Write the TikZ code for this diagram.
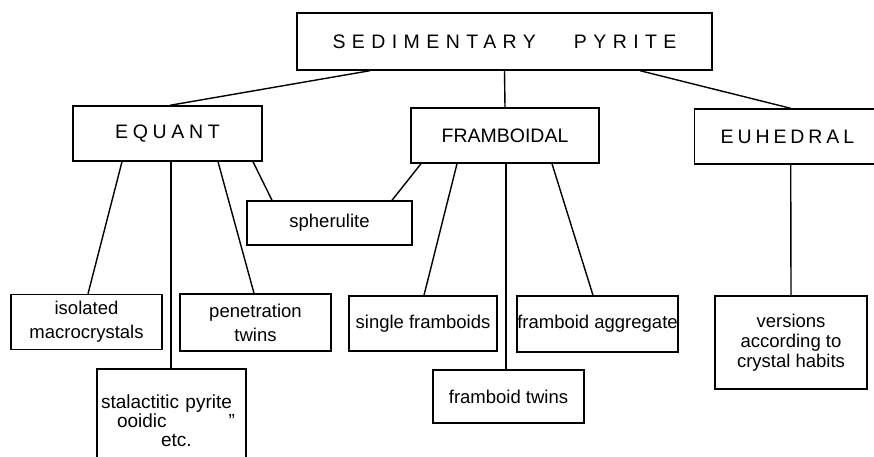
\documentclass[tikz,border=0pt]{standalone}
\usepackage{fontspec}
\setmainfont{Liberation Sans}
\newfontfamily\capsA[LetterSpace=33]{Liberation Sans}
\newfontfamily\capsB[LetterSpace=24]{Liberation Sans}
\newfontfamily\capsC[LetterSpace=0]{Liberation Sans}
\newfontfamily\capsD[LetterSpace=20]{Liberation Sans}
\begin{document}
\begin{tikzpicture}[x=1pt,y=-1pt,
  box/.style={draw, line width=1.4pt, rectangle, inner sep=0pt, align=center,
    font=\fontsize{18.5}{24}\selectfont},
  capbox/.style={box, font=\fontsize{19.5}{22}\selectfont},
  link/.style={line width=1.4pt}]
\useasboundingbox (0,0) rectangle (874,457);
% top level
\node[capbox, minimum width=415pt, minimum height=57pt] (top) at (504.5,41.5) {\capsA SEDIMENTARY\hspace{38pt}PYRITE};
% second level
\node[capbox, minimum width=189pt, minimum height=55pt] (equant) at (167.5,133.5) {\capsB EQUANT};
\node[capbox, minimum width=188pt, minimum height=55pt] (framb) at (505,135.5) {\capsC FRAMBOIDAL};
\node[capbox, anchor=west, align=left, text width=240pt, minimum height=55pt] (euh) at (694,136.5) {\hspace*{26pt}\capsD EUHEDRAL};
% spherulite
\node[box, minimum width=165pt, minimum height=44pt] (spher) at (329.5,223) {spherulite};
% third level
\node[box, minimum width=151pt, minimum height=55pt] (iso) at (86.5,322) {isolated\\macrocrystals};
\node[box, minimum width=149pt, minimum height=103pt, align=left, text width=141pt,
  font=\fontsize{19}{19}\selectfont] (stal) at (171.5,420.5)
  {stalactitic pyrite\\\hspace*{16pt}ooidic\hspace{62pt}\symbol{34}\\\hspace*{60pt}etc.};
\node[box, minimum width=151pt, minimum height=57pt] (pen) at (255.5,322.5) {penetration\\twins};
\node[box, minimum width=148pt, minimum height=55pt] (single) at (423,323.5) {single framboids};
\node[box, minimum width=161pt, minimum height=56pt] (agg) at (597.5,324) {framboid aggregate};
\node[box, minimum width=151pt, minimum height=53pt] (twins) at (508.5,396.5) {framboid twins};
\node[box, minimum width=152pt, minimum height=93pt, font=\fontsize{18.5}{20}\selectfont] (vers) at (791,342.5) {versions\\according to\\crystal habits};
% connectors
\draw[link] ([xshift=-134.5pt]top.south) -- ([xshift=2.5pt]equant.north);
\draw[link] (top.south) -- (framb.north);
\draw[link] ([xshift=135.5pt]top.south) -- ([xshift=-24pt]euh.north);
\draw[link] ([xshift=-45.5pt]equant.south) -- ([xshift=1.5pt]iso.north);
\draw[link] ([xshift=3.5pt]equant.south) -- ([xshift=-0.5pt]stal.north);
\draw[link] ([xshift=50.5pt]equant.south) -- ([xshift=-1.5pt]pen.north);
\draw[link] ([xshift=85.5pt]equant.south) -- ([xshift=-57.5pt]spher.north);
\draw[link] ([xshift=-84pt]framb.south) -- ([xshift=62.5pt]spher.north);
\draw[link] ([xshift=-48pt]framb.south) -- ([xshift=1pt]single.north);
\draw[link] ([xshift=1pt]framb.south) -- ([xshift=-2.5pt]twins.north);
\draw[link] ([xshift=47pt]framb.south) -- ([xshift=-4.5pt]agg.north);
\draw[link] ([xshift=-24pt]euh.south) -- (vers.north);
\end{tikzpicture}
\end{document}
